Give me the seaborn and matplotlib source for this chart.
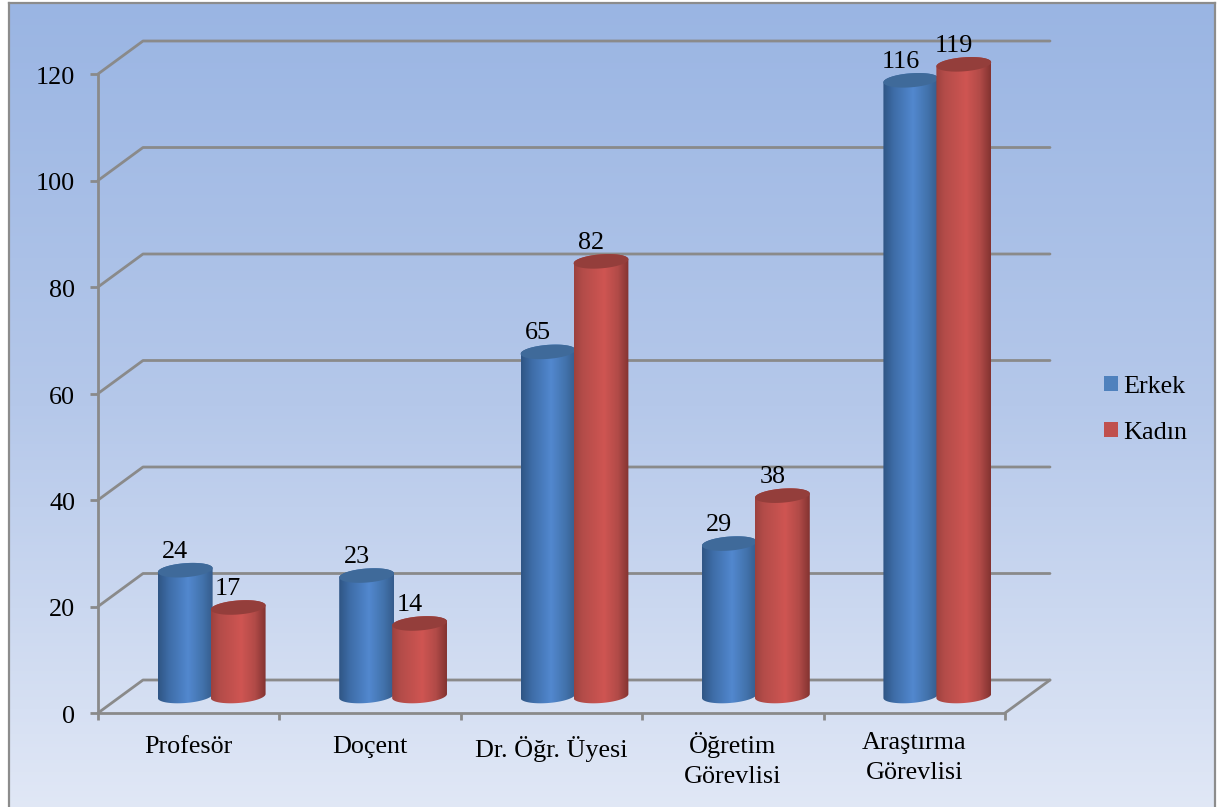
import numpy as np
import pandas as pd
import matplotlib
matplotlib.use("Agg")
import matplotlib.pyplot as plt
import seaborn as sns
from matplotlib.colors import LinearSegmentedColormap
from matplotlib.patches import Polygon, Patch, Rectangle
from matplotlib.transforms import ScaledTranslation

categories = ["Profesör", "Doçent", "Dr. Öğr. Üyesi", "Öğretim\nGörevlisi", "Araştırma\nGörevlisi"]
erkek = [24, 23, 65, 29, 116]
kadin = [17, 14, 82, 38, 119]
series_names = ["Erkek", "Kadın"]
y_ticks = [0, 20, 40, 60, 80, 100, 120]

W, H = 1219, 807
FS = 18.8
GRID = "#8A8A8A"
sns.set_theme(style="white")
plt.rcParams["font.family"] = ["Liberation Serif", "DejaVu Serif"]

fig = plt.figure(figsize=(W / 100, H / 100), dpi=100, facecolor="white")

# background panel with vertical gradient
L, T, R, B = 9, 3, 1215, 810
bg = fig.add_axes([L / W, 1 - B / H, (R - L) / W, (B - T) / H], zorder=0)
bg_cmap = LinearSegmentedColormap.from_list("bg", ["#9AB5E3", "#B5C8EA", "#E1E8F6"])
bg.imshow(np.linspace(0, 1, 256)[:, None], aspect="auto", cmap=bg_cmap)
bg.set_xticks([]); bg.set_yticks([])
for s in bg.spines.values():
    s.set_color("#8C8C8C"); s.set_linewidth(1.6)

# plot axes: front plane of the 3-D box
AL, AR, AT, AB = 98, 1005, 74, 713
ax = fig.add_axes([AL / W, 1 - AB / H, (AR - AL) / W, (AB - AT) / H], zorder=1)
ax.patch.set_alpha(0)

df = pd.DataFrame({
    "cat": categories * 2,
    "val": erkek + kadin,
    "who": [series_names[0]] * 5 + [series_names[1]] * 5,
})
sns.barplot(data=df, x="cat", y="val", hue="who", hue_order=series_names,
            palette=["#4F81BD", "#C0504D"], width=0.584, ax=ax, legend=False, saturation=1)
ax.set_xlim(-0.5, 4.5)
ax.set_ylim(0, 120)
ax.set_xlabel(""); ax.set_ylabel("")

px_x = (AR - AL) / 5.0      # pixels per category
px_y = (AB - AT) / 120.0    # pixels per value unit
to_dx = lambda p: p / px_x
to_dy = lambda p: p / px_y

# walls and floor
depth_x, depth_y = to_dx(45), to_dy(33)
x0, x1 = -0.5, 4.5
line_kw = dict(color=GRID, lw=2.0, clip_on=False, zorder=1, solid_capstyle="round")
for v in y_ticks:
    ax.plot([x0, x0 + depth_x, x1 + depth_x], [v, v + depth_y, v + depth_y], **line_kw)
ax.plot([x1, x1 + depth_x], [0, depth_y], **line_kw)
ax.plot([x0, x0], [0, 120], **line_kw)
ax.plot([x0, x1], [0, 0], **line_kw)
for s in ax.spines.values():
    s.set_visible(False)

# ticks
ax.set_yticks(y_ticks)
ax.set_xticks(range(5))
ax.set_xticklabels(categories)
ax.set_xticks(np.arange(-0.5, 5), minor=True)
ax.tick_params(axis="x", which="major", length=0, pad=15, labelsize=FS, labelcolor="black")
ax.tick_params(axis="x", which="minor", bottom=True, length=5, width=2.0, color=GRID)
ax.tick_params(axis="y", left=True, length=5.5, width=2.0, color=GRID, pad=11, labelsize=FS, labelcolor="black")
for t in ax.get_xticklabels():
    multi = "\n" in t.get_text()
    t.set_linespacing(1.48)
    t.set_transform(t.get_transform() + ScaledTranslation(0, (2 if multi else -2) / 100, fig.dpi_scale_trans))
for t in ax.get_yticklabels():
    t.set_transform(t.get_transform() + ScaledTranslation(0, -1.5 / 100, fig.dpi_scale_trans))

# cylinders built on the seaborn bars
off_x, off_y = to_dx(23), to_dy(17)
top_drop = to_dy(2)
a_tilt = np.deg2rad(4.5)
b_px = 7.0
grow_px = 1.0
cmaps = {
    0: LinearSegmentedColormap.from_list("b", [(0, "#2F5584"), (0.2, "#3E6DA8"), (0.55, "#5288CF"), (0.82, "#4272AB"), (1, "#355C8C")]),
    1: LinearSegmentedColormap.from_list("r", [(0, "#9C413E"), (0.15, "#B34C49"), (0.55, "#CF5552"), (0.8, "#B24B48"), (1, "#833331")]),
}
caps = {0: "#3F6A9A", 1: "#943E3B"}

def ring(xc, yc, half_w, t):
    """Tilted ellipse outline in data coordinates."""
    ca, sa = np.cos(a_tilt), np.sin(a_tilt)
    ex = half_w * np.cos(t) * ca - b_px * np.sin(t) * sa
    ey = half_w * np.cos(t) * sa + b_px * np.sin(t) * ca
    return np.column_stack([xc + to_dx(ex), yc + to_dy(ey)])

bars = [p for p in ax.patches if isinstance(p, Rectangle) and p.get_height() > 0]
bars = sorted(bars, key=lambda p: p.get_x())
for i, p in enumerate(bars):
    series = i % 2
    w_data = p.get_width()
    xl = p.get_x() + off_x
    h = p.get_height()
    top = off_y + h - top_drop
    xc = xl + w_data / 2
    half_px = w_data * px_x / 2 + grow_px
    z = 3 + i
    # seaborn bar kept as the body core
    inset = to_dx(3)
    p.set_x(xl + inset); p.set_width(w_data - 2 * inset)
    p.set_y(off_y); p.set_height(h - top_drop)
    p.set_clip_on(False); p.set_zorder(z); p.set_linewidth(0)
    low = ring(xc, off_y, half_px, np.linspace(np.pi, 2 * np.pi, 60))
    up = ring(xc, top, half_px, np.linspace(0, np.pi, 60))
    body = Polygon(np.vstack([low, up]), closed=True, transform=ax.transData, fc="none", ec="none")
    ax.add_patch(body); body.set_clip_on(False)
    im = ax.imshow(np.linspace(0, 1, 128)[None, :], aspect="auto", cmap=cmaps[series],
                   extent=(xc - to_dx(half_px), xc + to_dx(half_px), off_y - to_dy(12), top + to_dy(12)),
                   zorder=z + 0.1, origin="lower")
    im.set_clip_box(fig.bbox)
    im.set_clip_path(body)
    ax.add_patch(Polygon(ring(xc, top, half_px, np.linspace(0, 2 * np.pi, 80)), closed=True,
                         fc=caps[series], ec="none", zorder=z + 0.2, clip_on=False))
    ax.text(xc - to_dx(10), off_y + h + to_dy(16.5), f"{h:.0f}", ha="center", va="center",
            fontsize=FS, color="black", zorder=40, clip_on=False)

ax.set_xlim(-0.5, 4.5)
ax.set_ylim(0, 120)

# legend
handles = [Patch(fc=c, ec="none") for c in ["#4F81BD", "#C0504D"]]
fig.legend(handles, series_names, loc="center left", bbox_to_anchor=(1104 / W, 1 - 410 / H),
           frameon=False, fontsize=FS, handlelength=0.53, handleheight=0.53, handletextpad=0.22,
           labelspacing=0.92, borderpad=0, borderaxespad=0, labelcolor="black")

fig.savefig("out.png", dpi=100)
